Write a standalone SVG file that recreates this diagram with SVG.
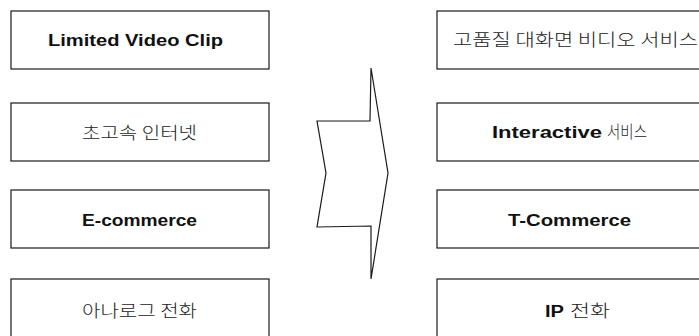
<svg xmlns="http://www.w3.org/2000/svg" width="699" height="336" viewBox="0 0 699 336">
<style>
.box{fill:#fff;stroke:#1a1a1a;stroke-width:1.2}
.en{font-family:"Liberation Sans",Arial,sans-serif;font-weight:bold;font-size:16px;fill:#111}
.ko{font-family:"Noto Sans CJK KR","Noto Sans",sans-serif;font-weight:300;font-size:16.5px;fill:#222}
.arrow{fill:#fff;stroke:#1a1a1a;stroke-width:1.2;stroke-linejoin:miter}
</style>
<rect width="699" height="336" fill="#fff"/>
<g id="left-1"><rect class="box" x="11" y="11" width="258" height="58"/><text class="en" x="48" y="46" textLength="175" lengthAdjust="spacingAndGlyphs">Limited Video Clip</text></g>
<g id="left-2"><rect class="box" x="11" y="103" width="258" height="58"/><text class="ko" x="82" y="139" textLength="115" lengthAdjust="spacingAndGlyphs">초고속 인터넷</text></g>
<g id="left-3"><rect class="box" x="11" y="190" width="258" height="58"/><text class="en" x="82" y="226" textLength="115" lengthAdjust="spacingAndGlyphs">E-commerce</text></g>
<g id="left-4"><rect class="box" x="11" y="279" width="258" height="70"/><text class="ko" x="82" y="317" textLength="115" lengthAdjust="spacingAndGlyphs">아나로그 전화</text></g>
<g id="right-1"><rect class="box" x="437" y="11" width="270" height="58"/><text class="ko" x="453" y="46" textLength="245" lengthAdjust="spacingAndGlyphs">고품질 대화면 비디오 서비스</text></g>
<g id="right-2"><rect class="box" x="437" y="103" width="270" height="58"/><text class="en" x="492" y="138" textLength="110" lengthAdjust="spacingAndGlyphs">Interactive</text><text class="ko" x="607" y="138" textLength="40" lengthAdjust="spacingAndGlyphs">서비스</text></g>
<g id="right-3"><rect class="box" x="437" y="190" width="270" height="58"/><text class="en" x="508" y="226" textLength="123" lengthAdjust="spacingAndGlyphs">T-Commerce</text></g>
<g id="right-4"><rect class="box" x="437" y="279" width="270" height="70"/><text class="en" x="545" y="317" textLength="19" lengthAdjust="spacingAndGlyphs">IP</text><text class="ko" x="570" y="317" textLength="40" lengthAdjust="spacingAndGlyphs">전화</text></g>
<g id="connectors"><path class="arrow" d="M371,68 L370,121 L317,121 L326,173 L317,227 L371,226 L371,279 L388,173 Z"/></g>
</svg>
